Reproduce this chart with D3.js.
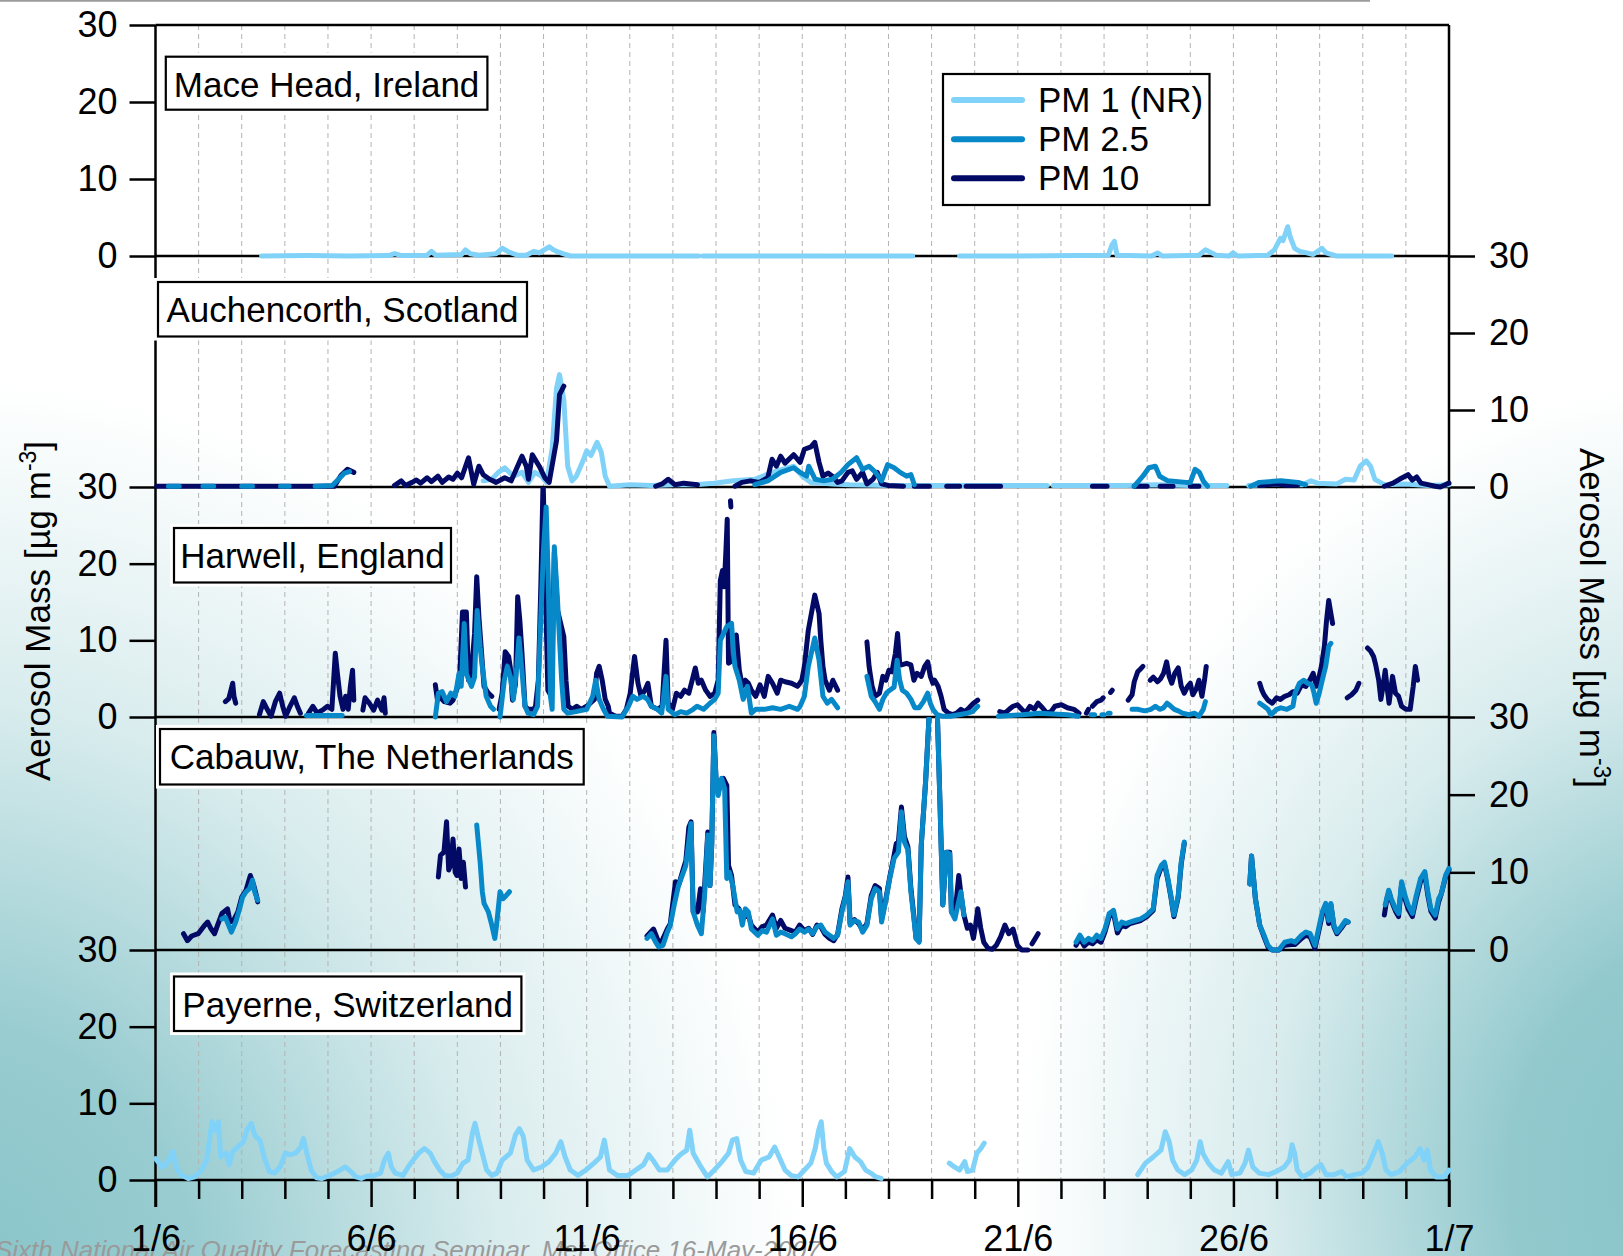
<!DOCTYPE html>
<html>
<head>
<meta charset="utf-8">
<script src="https://cdn.jsdelivr.net/npm/d3@7"></script>
<style>
  html, body { margin: 0; padding: 0; background: #fff; }
  svg { display: block; }
  text { font-family: "Liberation Sans", Arial, Helvetica, sans-serif; }
</style>
</head>
<body>
<svg id="chart" width="1623" height="1256"></svg>
<script>
// ---- Data: day offset from 1 June (0 = 1/6, 30 = 1/7), mass in µg m-3; null breaks a line ----
const dayTickValues = [0, 5, 10, 15, 20, 25, 30];
const dayTickLabels = ["1/6", "6/6", "11/6", "16/6", "21/6", "26/6", "1/7"];
const massTicks = [0, 10, 20, 30];
const stationNames = ["Mace Head, Ireland", "Auchencorth, Scotland", "Harwell, England",
                      "Cabauw, The Netherlands", "Payerne, Switzerland"];
const seriesNames = ["PM 1 (NR)", "PM 2.5", "PM 10"];

const maceHeadPM1 = [
  [2.46,0],[3.5,0.05],[4.5,0],[5.4,0.05],[5.55,0.3],[5.7,0.05],[6.3,0.1],[6.4,0.6],[6.5,0.1],
  [7.1,0.2],[7.19,0.8],[7.3,0.3],[7.5,0.1],[7.9,0.3],[8.04,1.0],[8.2,0.5],[8.4,0.1],[8.6,0.1],
  [8.77,0.6],[8.9,0.4],[9.13,1.2],[9.2,0.9],[9.3,0.6],[9.45,0.3],[9.62,0],[11,0],[12.6,0], null,
  [12.7,0],[15.62,0], null, [15.66,0],[17.56,0], null,
  [18.65,0],[20,0],[22.1,0.1],[22.18,1.4],[22.24,1.9],[22.3,0.1],[23.1,0],[23.24,0.4],[23.35,0],
  [24.2,0.1],[24.35,0.8],[24.5,0.4],[24.6,0.1],[24.9,0],[24.99,0.4],[25.1,0],[25.8,0.1],[25.95,0.8],
  [26.09,2.3],[26.15,2.0],[26.26,3.8],[26.32,2.4],[26.42,1.0],[26.54,0.6],[26.7,0.4],[26.85,0.2],
  [27.05,1.0],[27.15,0.4],[27.39,0],[28.67,0]
];

const auchencorthPM1 = [
  [7.6,0.8],[7.8,1.0],[7.95,1.9],[8.1,2.5],[8.3,1.4],[8.5,1.9],[8.65,0.6],[8.8,1.9],[8.95,1.4],
  [9.07,0.6],[9.2,5.0],[9.3,12.8],[9.37,14.6],[9.47,11.3],[9.56,2.7],[9.66,0.8],[9.76,1.4],[9.9,3.2],
  [10.0,4.7],[10.1,4.1],[10.24,5.8],[10.34,4.5],[10.43,1.4],[10.53,0.1],[11.0,0.3],[11.5,0.2],
  [12.0,0.3],[12.5,0.3],[12.95,0.5],[13.4,0.8],[13.9,1.0],[14.3,1.9],[14.8,2.7],[15.0,1.4],[15.2,0.6],
  [15.5,0.5],[15.7,0.4],[16.1,0.3],[17,0.2],[20.68,0.2], null, [20.82,0.2],[22.5,0.2],[23.2,0.3],
  [24.0,0.2],[24.85,0.2], null, [25.35,0.2],[26.0,0.4],[26.6,0.3],[26.8,0.8],[26.95,0.5],[27.4,0.4],
  [27.6,1.0],[27.8,0.9],[27.94,2.7],[28.08,3.4],[28.18,2.7],[28.28,1.0],[28.5,0.3],[29.0,0.4],
  [29.5,0.2],[30,0.3]
];

const auchencorthPM25 = [
  [0.3,0.1],[0.55,0.1], null, [1.1,0.1],[1.35,0.1], null, [2.0,0.1],[2.25,0.1], null,
  [2.9,0.1],[3.1,0.1], null, [3.7,0.1],[4.1,0.2],[4.38,1.8],[4.5,2.0], null,
  [13.9,0.3],[14.2,0.8],[14.5,1.9],[14.8,2.5],[14.95,1.9],[15.1,1.4],[15.15,2.7],[15.3,1.0],
  [15.5,0.8],[15.7,1.0],[15.9,1.9],[16.06,2.9],[16.26,3.8],[16.4,2.3],[16.55,2.7],[16.7,1.9],
  [16.84,0.8],[16.98,2.9],[17.13,2.5],[17.27,1.9],[17.42,1.4],[17.52,1.6],[17.6,0.3], null,
  [22.7,0.1],[22.9,1.4],[23.04,2.5],[23.19,2.7],[23.29,1.4],[23.48,0.8],[23.9,0.6],[24.0,0.6],
  [24.11,2.3],[24.21,1.9],[24.3,0.8],[24.4,0.1], null,
  [25.4,0.1],[25.6,0.6],[26.1,0.8],[26.5,0.6],[26.67,0.3]
];

const auchencorthPM10 = [
  [0.03,0.1],[4.15,0.1],[4.3,1.5],[4.45,2.3],[4.6,1.9], null,
  [5.54,0.2],[5.7,0.8],[5.8,0.2],[5.95,0.6],[6.05,0.9],[6.15,0.5],[6.3,1.2],[6.4,0.7],[6.55,1.4],
  [6.65,0.6],[6.8,1.3],[6.9,1.0],[7.0,1.8],[7.1,1.2],[7.26,3.8],[7.38,0.35],[7.5,2.7],[7.6,1.6],
  [7.75,1.0],[7.9,0.6],[8.1,1.2],[8.25,0.8],[8.5,4.0],[8.6,2.7],[8.65,1.0],[8.74,4.2],[8.9,2.7],
  [9.03,1.2],[9.13,0.6],[9.3,6.0],[9.37,12.0],[9.47,13.1], null,
  [11.6,0.1],[11.75,0.4],[11.89,1.0],[12.05,0.3],[12.25,0.5],[12.57,0.3], null,
  [13.44,0.1],[13.6,0.6],[13.8,0.8],[14.0,0.6],[14.2,1.2],[14.3,3.6],[14.4,2.7],[14.5,4.0],[14.6,3.1],
  [14.8,4.2],[14.95,3.2],[15.05,4.9],[15.2,5.2],[15.29,5.8],[15.39,3.2],[15.48,1.4],[15.6,1.8],
  [15.7,1.4],[15.82,0.6],[15.92,0.8],[16.06,1.9],[16.16,2.1],[16.26,1.0],[16.4,1.9],[16.5,0.4],
  [16.64,1.0],[16.74,1.9],[16.84,0.4],[17.0,0.2],[17.35,0.1], null,
  [17.6,0.1],[17.95,0.1], null, [18.35,0.1],[18.65,0.1], null, [18.8,0.1],[19.6,0.1], null,
  [21.73,0.1],[22.07,0.1], null, [22.7,0.1],[23.0,0.1], null, [23.3,0.1],[23.6,0.1], null,
  [24.0,0.1],[24.2,0.1], null, [25.6,0.2],[26.0,0.4],[26.3,0.2],[26.5,0.3], null,
  [28.5,0.1],[28.7,0.5],[28.85,1.0],[29.05,1.6],[29.15,0.9],[29.25,1.3],[29.35,0.5],[29.68,0.1],
  [29.8,0],[29.95,0.4],[30.0,0.5]
];

const harwellPM25 = [
  [3.5,0.2],[4.33,0.2], null,
  [6.49,0],[6.56,3.1],[6.65,3.3],[6.75,2.0],[6.85,3.1],[6.95,2.7],[7.04,5.7],[7.09,4.0],[7.16,12.2],
  [7.21,5.6],[7.33,4.0],[7.4,5.2],[7.46,13.9],[7.53,9.1],[7.58,6.5],[7.67,2.7],[7.77,1.4],[7.84,1.0], null,
  [7.99,0],[8.09,4.8],[8.16,6.6],[8.23,5.3],[8.3,2.3],[8.38,6.6],[8.43,10.3],[8.49,6.6],[8.57,1.4],
  [8.64,0.5],[8.77,0.3],[8.86,1.4],[8.94,13.5],[9.0,22],[9.06,27.4],[9.11,17.8],[9.16,2.7],[9.2,1.0],
  [9.23,13.5],[9.25,22.2],[9.32,15.6],[9.42,4.8],[9.47,1.0],[9.56,0.5],[9.75,0.7],[10.0,1.0],
  [10.14,2.7],[10.21,4.8],[10.29,2.3],[10.39,1.0],[10.48,0.1],[10.82,0],[10.97,1.4],[11.07,2.7],
  [11.17,2.3],[11.31,2.7],[11.41,2.3],[11.5,1.4],[11.64,1.0],[11.74,0.5],[11.84,5.3],[11.89,1.0],
  [12.04,0.3],[12.18,0.7],[12.32,0.5],[12.47,1.0],[12.56,1.4],[12.71,1.0],[12.86,1.8],[12.97,2.3],
  [13.05,3.1],[13.1,10.0],[13.25,11.8],[13.36,12.2],[13.41,8.0],[13.44,6.6],[13.54,4.8],[13.63,2.3],
  [13.73,4.0],[13.82,0.5],[13.92,1.0],[14.12,1.0],[14.31,1.2],[14.5,1.0],[14.7,1.4],[14.89,1.0],
  [14.95,1.4],[15.05,2.7],[15.14,6.6],[15.29,10.3],[15.39,7.4],[15.48,2.7],[15.58,1.8],[15.68,2.3],
  [15.82,1.2], null,
  [16.5,5.3],[16.6,2.7],[16.69,2.0],[16.79,1.0],[16.87,2.3],[16.95,3.1],[17.03,3.5],[17.13,3.9],
  [17.2,7.4],[17.26,4.8],[17.32,3.5],[17.42,3.1],[17.52,2.3],[17.61,1.2],[17.71,1.2],[17.81,2.0],
  [17.91,3.1],[17.97,1.8],[18.03,1.0],[18.13,0.3],[18.24,0.1],[18.44,0.1],[18.63,0.3],[18.83,0.5],
  [18.95,0.7],[19.07,1.4], null,
  [19.55,0.1],[20.1,0.3],[20.5,0.5],[21.15,0.3],[21.4,0.1], null,
  [21.7,0.3],[21.78,0.3], null, [21.95,0.3],[22.0,0.3], null, [22.1,0.5],[22.14,0.5], null,
  [22.65,1.0],[22.79,1.0],[22.94,0.8],[23.09,1.0],[23.19,1.4],[23.29,1.0],[23.38,1.2],[23.46,1.8],
  [23.55,1.4],[23.63,1.0],[23.72,0.8],[23.82,0.5],[23.97,0.3],[24.1,0.5],[24.2,0.1],[24.3,1.0],
  [24.35,2.0], null,
  [25.61,1.8],[25.71,1.4],[25.8,1.0],[25.87,0.3],[26.0,1.0],[26.1,1.2],[26.24,1.0],[26.38,1.4],
  [26.43,3.1],[26.53,4.4],[26.63,4.8],[26.72,4.4],[26.82,4.2],[26.87,3.1],[26.92,1.8],[26.99,3.1],
  [27.06,4.8],[27.14,6.6],[27.21,9.2],[27.26,9.6]
];

const harwellPM10 = [
  [1.62,2.0],[1.7,2.4],[1.79,4.4],[1.82,2.7],[1.86,1.8], null,
  [2.41,0.3],[2.5,2.0],[2.6,0.9],[2.68,0.1],[2.78,2.0],[2.88,3.1],[2.95,1.4],[3.02,0.1],[3.12,1.4],
  [3.22,2.5],[3.29,1.4],[3.36,0.5], null,
  [3.55,0.5],[3.65,1.4],[3.75,0.5],[3.9,1.0],[3.99,1.4],[4.09,1.0],[4.17,8.3],[4.22,5.6],[4.28,2.7],
  [4.35,1.0],[4.41,2.7],[4.47,1.0],[4.52,4.0],[4.57,6.1],[4.6,2.2], null,
  [4.81,0.9],[4.86,2.5],[4.96,1.8],[5.06,0.9],[5.15,2.2],[5.25,0.9],[5.3,2.5],[5.33,0.5], null,
  [6.49,4.2],[6.54,2.2],[6.6,2.6],[6.7,2.0],[6.83,1.8],[6.9,2.2],[7.0,3.8],[7.06,5.9],[7.12,13.7],
  [7.21,13.7],[7.26,4.8],[7.33,6.1],[7.4,10.9],[7.45,18.3],[7.5,13.1],[7.58,7.0],[7.62,4.0],
  [7.72,3.1],[7.8,2.7], null,
  [7.97,1.0],[8.04,3.1],[8.11,8.5],[8.19,7.9],[8.23,6.4],[8.28,2.2],[8.35,4.3],[8.4,15.7],[8.45,12.6],
  [8.5,8.3],[8.57,1.4],[8.64,1.0],[8.74,1.0],[8.81,1.2],[8.88,4.8],[8.94,17.8],[8.99,31],[9.04,17.8],
  [9.1,3.5],[9.17,2.8],[9.21,10],[9.25,21.5],[9.32,14],[9.38,12.6],[9.47,10.5],[9.52,4.8],[9.57,1.4],
  [9.67,1.0],[9.77,1.4],[9.87,1.0],[10.0,1.4],[10.18,2.3],[10.23,5.7],[10.29,6.6],[10.36,4.8],
  [10.43,2.3],[10.5,1.4],[10.53,0.5],[10.67,0.1],[10.82,0.1],[10.92,1.0],[11.01,3.1],[11.11,7.9],
  [11.19,4.4],[11.26,2.7],[11.35,3.5],[11.42,4.4],[11.5,1.4],[11.65,1.0],[11.75,1.4],[11.84,10.0],
  [11.89,1.8],[11.99,1.0],[12.08,3.1],[12.18,2.7],[12.27,3.5],[12.37,3.1],[12.47,5.3],[12.52,6.4],
  [12.59,4.4],[12.66,4.8],[12.76,3.5],[12.86,2.7],[12.97,3.1],[13.05,4.8],[13.1,17.8],[13.15,19.1],
  [13.19,17.0],[13.23,21.7],[13.26,25.8],[13.29,7.0],[13.39,7.4],[13.47,10.7],[13.54,6.1],[13.61,4.0],
  [13.68,4.8],[13.75,4.4],[13.82,3.5],[13.92,2.7],[14.02,4.2],[14.12,2.7],[14.21,5.3],[14.31,4.4],
  [14.42,3.1],[14.5,4.8],[14.6,4.6],[14.75,4.4],[14.89,4.0],[14.99,4.8],[15.05,6.6],[15.14,11.3],
  [15.29,15.9],[15.39,13.5],[15.43,10.0],[15.48,6.6],[15.53,4.8],[15.63,3.5],[15.71,4.8],[15.82,3.5], null,
  [13.335,28.2],[13.345,27.4], null,
  [16.5,9.8],[16.55,6.6],[16.62,4.0],[16.69,2.7],[16.79,3.1],[16.87,5.3],[16.94,4.8],[17.01,6.1],
  [17.08,5.9],[17.16,8.3],[17.21,10.9],[17.26,7.0],[17.3,6.8],[17.42,7.0],[17.52,6.8],[17.59,4.8],
  [17.66,5.7],[17.76,5.3],[17.84,6.6],[17.91,7.2],[17.97,5.3],[18.03,4.4],[18.07,4.8],[18.15,4.0],
  [18.22,2.7],[18.29,1.0],[18.39,0.5],[18.49,0.3],[18.58,0.5],[18.68,1.0],[18.78,0.7],[18.87,1.2],
  [18.97,1.8],[19.07,2.2], null,
  [19.58,0.7],[19.7,0.5],[19.8,1.0],[19.89,1.4],[19.99,1.6],[20.09,1.0],[20.18,0.5],[20.28,1.4],
  [20.38,1.0],[20.47,1.8],[20.57,1.2],[20.67,0.5],[20.77,0.7],[20.86,1.4],[21.01,1.6],[21.15,1.2],
  [21.3,1.0],[21.42,0.5], null,
  [21.59,0.5],[21.64,1.0], null, [21.73,1.4],[21.83,2.0],[21.93,2.2],[21.98,2.5], null,
  [22.15,3.2],[22.19,3.5], null,
  [22.56,2.2],[22.65,2.9],[22.7,4.6],[22.78,5.9],[22.85,6.3],[22.9,6.6], null,
  [23.07,4.8],[23.14,5.2],[23.24,4.6],[23.31,5.0],[23.38,5.7],[23.45,7.2],[23.51,5.3],[23.57,4.4],
  [23.64,5.7],[23.72,6.4],[23.79,4.0],[23.86,3.1],[23.94,4.0],[24.0,4.4],[24.06,2.9],[24.14,3.7],
  [24.2,4.8],[24.27,2.7],[24.33,4.8],[24.37,6.6], null,
  [25.61,4.4],[25.66,3.5],[25.71,2.9],[25.8,2.2],[25.9,1.8],[26.0,2.5],[26.09,2.3],[26.19,2.7],
  [26.29,2.9],[26.38,3.3],[26.48,3.1],[26.58,4.2],[26.68,4.0],[26.77,4.8],[26.85,5.7],[26.92,4.0],
  [26.97,4.8],[27.04,6.6],[27.11,9.2],[27.16,12.6],[27.21,15.2],[27.26,13.5],[27.3,12.2], null,
  [27.64,2.5],[27.74,2.9],[27.84,3.5],[27.91,4.4], null,
  [28.11,9.0],[28.18,8.6],[28.25,7.9],[28.3,6.8],[28.37,4.8],[28.42,2.3],[28.47,4.0],[28.52,6.1],
  [28.56,4.0],[28.61,1.8],[28.69,5.3],[28.76,3.1],[28.83,2.7],[28.9,1.4],[29.0,1.0],[29.1,1.0],
  [29.17,4.0],[29.22,6.6],[29.27,4.8]
];

const cabauwPM25 = [
  [1.54,4.0],[1.62,4.2],[1.76,2.3],[1.86,3.6],[1.95,5.3],[2.02,6.8],[2.1,7.5],[2.18,7.9],[2.25,9.0],
  [2.3,7.5],[2.37,6.4], null,
  [7.45,16.1],[7.53,11.3],[7.58,7.5],[7.62,6.0],[7.72,4.9],[7.8,3.2],[7.87,1.5],[7.91,3.2],[7.99,7.5],
  [8.06,6.6],[8.13,7.0],[8.21,7.5], null,
  [11.4,1.5],[11.5,2.1],[11.6,1.0],[11.67,0.4],[11.77,0.6],[11.87,2.3],[11.94,3.2],[12.03,5.8],
  [12.13,8.3],[12.23,9.8],[12.3,10.9],[12.36,13.5],[12.42,16.3],[12.47,4.9],[12.57,3.2],[12.66,2.1],
  [12.74,7.5],[12.81,14.8],[12.86,8.3],[12.9,13.5],[12.95,27.6],[13.0,22.1],[13.05,19.9],[13.13,22.1],
  [13.2,20.8],[13.25,9.2],[13.31,10.0],[13.39,8.3],[13.49,4.9],[13.55,5.1],[13.61,3.2],[13.68,5.3],
  [13.75,4.9],[13.82,2.7],[13.97,1.9],[14.07,2.5],[14.17,2.3],[14.31,4.0],[14.4,1.9],[14.5,2.3],
  [14.6,2.1],[14.75,1.7],[14.84,2.1],[14.94,2.7],[15.05,2.3],[15.15,2.7],[15.24,2.1],[15.34,3.0],
  [15.43,3.2],[15.53,2.3],[15.63,1.9],[15.73,1.5],[15.82,1.9],[15.92,4.9],[16.0,6.8],[16.06,8.8],
  [16.11,3.2],[16.21,3.8],[16.31,3.6],[16.4,2.3],[16.5,3.2],[16.6,6.6],[16.69,7.9],[16.79,7.5],
  [16.84,3.6],[16.94,6.4],[17.03,9.2],[17.13,11.8],[17.23,12.6],[17.3,17.8],[17.37,13.9],[17.45,12.9],
  [17.52,7.5],[17.59,4.0],[17.64,1.5],[17.71,1.0],[17.76,13.5],[17.86,21.6],[17.95,31],[18.13,31],
  [18.2,17.8],[18.26,5.8],[18.34,12.6],[18.42,12.4],[18.46,4.9],[18.54,4.0],[18.61,5.8],[18.68,7.5],
  [18.75,4.5], null,
  [21.35,1.0],[21.44,1.9],[21.54,1.0],[21.64,1.5],[21.73,1.2],[21.83,1.9],[21.93,1.5],[22.02,2.7],
  [22.12,4.7],[22.22,5.1],[22.31,2.7],[22.41,3.6],[22.5,3.4],[22.6,3.6],[22.72,3.8],[22.85,4.0],
  [22.99,4.5],[23.14,5.3],[23.23,9.6],[23.33,10.9],[23.4,11.3],[23.48,9.2],[23.55,7.0],[23.62,4.5],
  [23.72,7.0],[23.79,11.3],[23.86,13.9], null,
  [25.38,8.5],[25.42,12.1],[25.51,6.6],[25.61,3.2],[25.71,1.9],[25.8,0.6],[25.9,0],[26.05,0],
  [26.19,1.0],[26.34,1.2],[26.43,1.0],[26.58,1.9],[26.68,2.3],[26.78,2.1],[26.89,0.6],[26.97,2.6],
  [27.06,4.9],[27.14,6.0],[27.21,3.8],[27.26,6.0],[27.33,3.2],[27.4,2.3],[27.5,3.0],[27.6,3.8],
  [27.66,3.6], null,
  [28.52,5.8],[28.6,7.7],[28.66,6.6],[28.76,5.3],[28.83,4.7],[28.9,8.8],[28.98,7.0],[29.05,5.8],
  [29.15,4.7],[29.24,7.0],[29.34,9.2],[29.44,10.1],[29.51,7.4],[29.58,5.3],[29.68,4.5],[29.76,6.6],
  [29.82,7.2],[29.92,9.6],[30.0,10.5]
];

const cabauwPM10 = [
  [0.65,2.1],[0.74,1.2],[0.84,1.8],[0.99,2.1],[1.14,3.2],[1.21,3.6],[1.28,2.8],[1.37,2.1],[1.44,3.2],
  [1.54,4.7],[1.67,5.3],[1.73,3.6],[1.81,3.8],[1.91,4.9],[2.0,6.8],[2.1,7.7],[2.2,9.6],[2.28,8.3],
  [2.34,7.0],[2.37,6.2], null,
  [6.56,9.4],[6.61,12.2],[6.69,12.6],[6.75,16.5],[6.8,10.3],[6.85,11.0],[6.9,14.3],[6.95,10.0],
  [6.99,9.6],[7.04,13.0],[7.09,9.2],[7.14,11.3],[7.19,8.1], null,
  [11.4,1.8],[11.55,2.7],[11.7,0.6],[11.87,2.7],[11.94,3.4],[12.06,8.8],[12.13,8.3],[12.23,10.2],
  [12.3,11.5],[12.37,15.8],[12.42,16.5],[12.47,4.9],[12.57,4.9],[12.64,7.9],[12.7,4.9],[12.81,15.2],
  [12.86,8.3],[12.9,13.5],[12.95,28],[13.0,22.1],[13.05,20.4],[13.17,22.1],[13.25,21.2],[13.29,10.9],
  [13.36,9.6],[13.44,5.8],[13.53,5.3],[13.63,4.0],[13.73,4.9],[13.82,3.2],[13.97,2.3],[14.07,3.0],
  [14.17,3.2],[14.31,4.5],[14.4,2.8],[14.5,3.8],[14.6,2.8],[14.7,2.6],[14.84,2.3],[14.94,3.2],
  [15.05,2.5],[15.15,2.8],[15.24,2.0],[15.34,3.2],[15.43,3.0],[15.53,2.0],[15.63,1.5],[15.73,1.2],
  [15.82,2.0],[15.92,5.3],[16.0,7.0],[16.06,9.4],[16.11,3.4],[16.21,3.9],[16.31,3.4],[16.4,2.6],
  [16.5,3.4],[16.6,7.0],[16.69,8.3],[16.79,7.9],[16.84,4.0],[16.94,6.6],[17.03,9.4],[17.13,12.2],
  [17.18,13.7],[17.23,13.9],[17.3,18.4],[17.37,14.6],[17.45,13.3],[17.52,7.9],[17.59,4.3],[17.64,1.5],
  [17.71,1.2],[17.76,13.5],[17.86,21.6],[17.95,31],[18.13,31],[18.2,17.8],[18.26,5.8],[18.34,12.6],
  [18.42,12.6],[18.46,4.9],[18.54,4.5],[18.63,9.6],[18.68,7.2],[18.75,4.5],[18.83,2.8],[18.9,3.2],
  [18.97,1.5],[19.02,3.2],[19.07,5.3],[19.14,2.8],[19.21,1.0],[19.31,0.2],[19.41,0.1],[19.5,0.6],
  [19.6,1.7],[19.7,3.2],[19.79,2.1],[19.89,2.7],[19.99,0.6],[20.09,0],[20.23,0], null,
  [20.33,0.8],[20.47,2.1], null,
  [21.35,0.6],[21.44,1.5],[21.54,0.5],[21.64,1.0],[21.73,0.8],[21.83,1.3],[21.93,1.0],[22.02,2.3],
  [22.12,4.3],[22.22,4.7],[22.31,2.2],[22.41,3.2],[22.5,3.0],[22.6,3.4],[22.72,3.6],[22.85,3.8],
  [22.99,4.3],[23.14,5.1],[23.23,9.2],[23.33,10.7],[23.4,11.1],[23.48,9.0],[23.55,6.8],[23.62,4.3],
  [23.72,6.8],[23.79,11.1],[23.86,13.7], null,
  [25.38,8.5],[25.42,12.1],[25.51,6.6],[25.61,3.2],[25.71,1.7],[25.8,0.4],[25.9,0],[26.05,0],
  [26.19,0.6],[26.34,0.7],[26.43,0.7],[26.58,1.5],[26.68,1.9],[26.78,1.7],[26.89,0.2],[26.97,2.2],
  [27.06,4.5],[27.14,5.8],[27.21,3.4],[27.26,5.8],[27.33,3.0],[27.4,2.1],[27.5,2.8],[27.6,3.6],
  [27.66,3.6], null,
  [28.5,4.5],[28.56,6.6],[28.61,7.5],[28.66,6.4],[28.76,5.0],[28.83,4.3],[28.9,8.4],[28.98,6.6],
  [29.05,5.3],[29.15,4.3],[29.24,6.6],[29.34,8.8],[29.44,9.7],[29.51,7.0],[29.58,5.0],[29.68,4.1],
  [29.76,6.2],[29.82,7.2],[29.92,9.4],[30.0,10.3]
];

const payernePM1 = [
  [0,2.8],[0.15,1.7],[0.27,2.2],[0.4,3.7],[0.48,1.7],[0.58,0.7],[0.76,0.2],[0.91,0.4],[1.07,1.3],
  [1.19,2.6],[1.31,7.6],[1.39,6.5],[1.46,7.6],[1.51,3.0],[1.64,3.5],[1.71,2.0],[1.79,3.7],[1.91,4.3],
  [2.04,5.0],[2.12,6.5],[2.22,7.4],[2.31,5.7],[2.42,5.2],[2.52,3.0],[2.64,1.1],[2.76,0.9],[2.89,1.7],
  [3.01,3.5],[3.13,3.3],[3.25,3.5],[3.37,4.3],[3.43,5.4],[3.51,3.5],[3.61,1.3],[3.73,0.3],[3.86,0.2],
  [4.04,0.6],[4.22,1.1],[4.4,1.7],[4.53,1.1],[4.65,0.4],[4.77,0.2],[4.89,0.5],[5.07,0.6],[5.22,0.9],
  [5.31,2.6],[5.4,3.5],[5.47,1.7],[5.56,0.9],[5.74,0.6],[5.86,1.7],[5.98,2.6],[6.1,3.5],[6.24,4.1],
  [6.37,3.5],[6.47,2.4],[6.59,1.3],[6.71,0.6],[6.85,0.5],[7.0,0.9],[7.13,2.2],[7.25,2.6],[7.35,6.1],
  [7.41,7.4],[7.5,5.2],[7.56,3.9],[7.68,1.3],[7.8,0.6],[7.92,0.9],[8.04,2.6],[8.23,3.5],[8.35,5.9],
  [8.44,6.7],[8.53,5.7],[8.62,2.6],[8.77,1.3],[8.95,1.7],[9.13,2.4],[9.28,3.5],[9.4,5.0],[9.5,3.0],
  [9.62,1.3],[9.8,0.6],[9.98,1.3],[10.17,2.2],[10.32,3.0],[10.41,5.2],[10.53,1.3],[10.71,0.6],
  [10.96,0.6],[11.14,1.3],[11.32,2.0],[11.44,3.3],[11.56,2.4],[11.69,1.3],[11.87,1.3],[12.05,2.6],
  [12.17,3.3],[12.32,3.9],[12.39,6.5],[12.47,3.5],[12.65,1.7],[12.8,0.4],[12.96,1.3],[13.14,2.4],
  [13.29,3.5],[13.38,5.2],[13.48,5.4],[13.57,2.6],[13.69,1.1],[13.87,0.9],[14.05,2.6],[14.23,3.0],
  [14.36,4.3],[14.48,2.8],[14.6,1.3],[14.74,0.6],[14.9,0.4],[15.02,1.1],[15.2,2.2],[15.3,4.1],
  [15.38,6.5],[15.44,7.6],[15.5,4.1],[15.56,2.2],[15.68,1.1],[15.8,0.4],[15.98,1.1],[16.1,4.1],
  [16.22,3.0],[16.35,2.4],[16.47,1.3],[16.59,0.9],[16.71,0.4],[16.83,0.2], null,
  [18.41,2.2],[18.53,1.7],[18.65,1.3],[18.77,2.4],[18.83,1.1],[18.95,1.3],[19.05,3.5],[19.14,4.1],
  [19.22,4.8], null,
  [22.78,0.7],[22.96,2.2],[23.14,3.0],[23.32,3.9],[23.42,6.3],[23.51,5.0],[23.59,2.6],[23.71,1.3],
  [23.87,0.7],[24.03,1.3],[24.15,2.6],[24.23,5.0],[24.29,3.5],[24.42,2.2],[24.56,1.3],[24.72,0.9],
  [24.88,2.4],[24.96,0.7],[25.15,0.9],[25.27,2.2],[25.35,3.9],[25.45,1.7],[25.6,0.9],[25.81,0.7],
  [25.99,1.1],[26.18,1.7],[26.3,2.6],[26.36,4.6],[26.42,3.5],[26.48,1.3],[26.6,0.4],[26.78,0.9],
  [26.9,1.5],[27.03,2.0],[27.15,0.7],[27.33,0.7],[27.51,1.1],[27.63,0.4],[27.81,0.7],[27.99,0.9],
  [28.12,1.7],[28.24,3.3],[28.36,5.0],[28.45,3.5],[28.54,1.3],[28.66,0.7],[28.85,1.1],[29.03,2.2],
  [29.21,3.0],[29.33,4.1],[29.42,2.6],[29.5,3.9],[29.57,1.3],[29.7,0.4],[29.88,0.4],[30.0,1.3]
];

// Series per station, drawn in this order: PM1, PM10, PM2.5 on top
const panels = [
  { name: stationNames[0], axis: "left",  pm1: maceHeadPM1,    pm10: null,             pm25: null },
  { name: stationNames[1], axis: "right", pm1: auchencorthPM1, pm10: auchencorthPM10, pm25: auchencorthPM25 },
  { name: stationNames[2], axis: "left",  pm1: null,           pm10: harwellPM10,     pm25: harwellPM25 },
  { name: stationNames[3], axis: "right", pm1: null,           pm10: cabauwPM10,      pm25: cabauwPM25 },
  { name: stationNames[4], axis: "left",  pm1: payernePM1,     pm10: null,             pm25: null }
];

// ---- Layout ----
const W = 1623, H = 1256;
const plotL = 155.5, plotR = 1449;
const edges = [25, 256, 487, 717, 950, 1180];
const colors = { pm1: "#80d2f8", pm25: "#0788c8", pm10: "#020a66" };
const fontSize = 36;

const svg = d3.select("#chart");
const defs = svg.append("defs");

// ---- Slide background: white with teal glow at the lower corners ----
const teal = "#86c3c8";
function glow(id, cx, cy, rx, ry, stops) {
  const g = defs.append("radialGradient").attr("id", id)
    .attr("gradientUnits", "userSpaceOnUse").attr("cx", 0).attr("cy", 0).attr("r", 1)
    .attr("gradientTransform", `translate(${cx},${cy}) scale(${rx},${ry})`);
  stops.forEach(s => g.append("stop").attr("offset", s[0]).attr("stop-color", teal).attr("stop-opacity", s[1]));
}
glow("glowBL", -60, 1300, 860, 920, [[0, 1], [0.3, 0.85], [0.65, 0.32], [1, 0]]);
glow("glowBR", 1720, 1180, 700, 800, [[0, 1], [0.3, 0.9], [0.65, 0.32], [1, 0]]);
svg.append("rect").attr("width", W).attr("height", H).attr("fill", "#fff");
svg.append("rect").attr("width", W).attr("height", H).attr("fill", "url(#glowBL)");
svg.append("rect").attr("width", W).attr("height", H).attr("fill", "url(#glowBR)");

// thin rule along the top of the slide
svg.append("line").attr("x1", 0).attr("x2", 1370).attr("y1", 0.75).attr("y2", 0.75)
  .attr("stroke", "#9a9a9a").attr("stroke-width", 2);

// footer credit, beneath the chart
svg.append("text").attr("x", -5).attr("y", 1259)
  .style("font-size", "26px").style("font-style", "italic").attr("fill", "#9a9a9a")
  .text("Sixth National Air Quality Forecasting Seminar, Met Office 16-May-2007");

const x = d3.scaleLinear().domain([0, 30]).range([plotL, plotR]);

// ---- Daily dashed grid ----
svg.append("g").selectAll("line").data(d3.range(1, 30)).join("line")
  .attr("x1", d => x(d)).attr("x2", d => x(d)).attr("y1", edges[0]).attr("y2", edges[5])
  .attr("stroke", "#b3b3b3").attr("stroke-width", 1).attr("stroke-dasharray", "5,4");

// ---- Panel borders and mass axes ----
const frame = svg.append("g");
edges.forEach(y0 => frame.append("line").attr("x1", plotL).attr("x2", plotR)
  .attr("y1", y0).attr("y2", y0).attr("stroke", "#000").attr("stroke-width", 2.5));
frame.append("line").attr("x1", plotL).attr("x2", plotL).attr("y1", edges[0]).attr("y2", edges[5] + 27)
  .attr("stroke", "#000").attr("stroke-width", 2.5);
frame.append("line").attr("x1", plotR).attr("x2", plotR).attr("y1", edges[0]).attr("y2", edges[5] + 27)
  .attr("stroke", "#000").attr("stroke-width", 2.5);

const yScales = panels.map((p, i) => d3.scaleLinear().domain([0, 30]).range([edges[i + 1], edges[i]]));

function styleAxis(g) {
  g.select(".domain").remove();
  g.selectAll(".tick line").attr("stroke", "#000").attr("stroke-width", 2.5);
  g.selectAll(".tick text").attr("fill", "#000").style("font-size", fontSize + "px")
    .style("font-family", '"Liberation Sans", Arial, Helvetica, sans-serif');
}

panels.forEach((p, i) => {
  const y = yScales[i];
  if (p.axis === "left") {
    svg.append("g").attr("transform", `translate(${plotL},0)`)
      .call(d3.axisLeft(y).tickValues(massTicks).tickSize(26).tickPadding(12).tickFormat(d3.format("d")))
      .call(styleAxis);
  } else {
    svg.append("g").attr("transform", `translate(${plotR},0)`)
      .call(d3.axisRight(y).tickValues(massTicks).tickSize(26).tickPadding(14).tickFormat(d3.format("d")))
      .call(styleAxis);
  }
});

// ---- Date axis ----
const xAxis = svg.append("g").attr("transform", `translate(0,${edges[5]})`)
  .call(d3.axisBottom(x).tickValues(d3.range(0, 31)).tickSize(19).tickPadding(26)
    .tickFormat(d => dayTickValues.includes(d) ? dayTickLabels[dayTickValues.indexOf(d)] : ""))
  .call(styleAxis);
xAxis.selectAll(".tick line").attr("y2", d => dayTickValues.includes(d) ? 27 : 19);

// ---- Data lines ----
panels.forEach((p, i) => {
  const y = yScales[i];
  const clipId = "clip" + i;
  defs.append("clipPath").attr("id", clipId).append("rect")
    .attr("x", plotL - 4).attr("y", edges[i]).attr("width", plotR - plotL + 8)
    .attr("height", edges[i + 1] - edges[i] + 3);
  const g = svg.append("g").attr("clip-path", `url(#${clipId})`);
  const line = d3.line().defined(d => d !== null).x(d => x(d[0])).y(d => y(d[1]));
  [["pm1", p.pm1], ["pm10", p.pm10], ["pm25", p.pm25]].forEach(([key, data]) => {
    if (!data) return;
    g.append("path").attr("d", line(data)).attr("fill", "none")
      .attr("stroke", colors[key]).attr("stroke-width", 5)
      .attr("stroke-linejoin", "round").attr("stroke-linecap", "round");
  });
});

// ---- Station labels ----
const labelBoxes = [
  [165.8, 56.7, 321.6, 53],
  [158, 282, 369, 54.5],
  [174, 528, 277, 54.5],
  [160, 729, 423.7, 55.5],
  [174, 976.5, 347.4, 54.5]
];
panels.forEach((p, i) => {
  const [bx, by, bw, bh] = labelBoxes[i];
  const g = svg.append("g");
  g.append("rect").attr("x", bx - 4).attr("y", by - 4).attr("width", bw + 8).attr("height", bh + 8).attr("fill", "#fff");
  g.append("rect").attr("x", bx).attr("y", by).attr("width", bw).attr("height", bh)
    .attr("fill", "#fff").attr("stroke", "#000").attr("stroke-width", 2.2);
  g.append("text").attr("x", bx + bw / 2).attr("y", by + 40).attr("text-anchor", "middle")
    .style("font-size", "35px").attr("fill", "#000").text(p.name);
});

// ---- Legend ----
const legend = svg.append("g");
legend.append("rect").attr("x", 943).attr("y", 74).attr("width", 266.5).attr("height", 131)
  .attr("fill", "#fff").attr("stroke", "#000").attr("stroke-width", 2.2);
const legendKeys = ["pm1", "pm25", "pm10"];
const legendY = [100, 139.3, 178.3];
seriesNames.forEach((s, i) => {
  legend.append("line").attr("x1", 954).attr("x2", 1022).attr("y1", legendY[i]).attr("y2", legendY[i])
    .attr("stroke", colors[legendKeys[i]]).attr("stroke-width", 6).attr("stroke-linecap", "round");
  legend.append("text").attr("x", 1038).attr("y", legendY[i] + 11.5)
    .style("font-size", "35px").attr("fill", "#000").text(s);
});

// ---- Axis titles ----
function massTitle(tx, ty, angle) {
  const t = svg.append("text").attr("transform", `translate(${tx},${ty}) rotate(${angle})`)
    .attr("text-anchor", "middle").style("font-size", "35px").attr("fill", "#000");
  t.append("tspan").text("Aerosol Mass [µg m");
  t.append("tspan").attr("dy", -14).style("font-size", "23px").text("-3");
  t.append("tspan").attr("dy", 14).text("]");
}
massTitle(50, 611, -90);
massTitle(1580, 618, 90);
</script>
</body>
</html>
